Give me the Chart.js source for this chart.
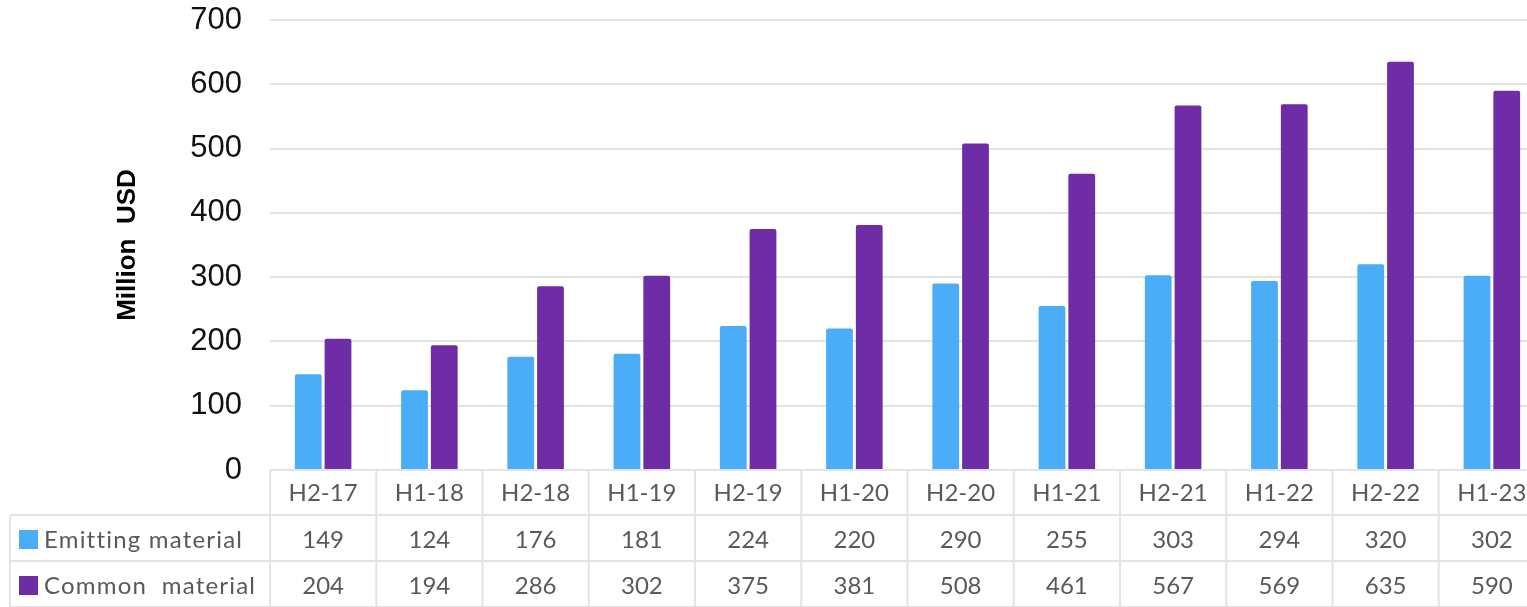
<!DOCTYPE html>
<html>
<head>
<meta charset="utf-8">
<script src="https://cdn.jsdelivr.net/npm/chart.js@4"></script>
<style>
  html, body { margin: 0; padding: 0; background: #fff; overflow: hidden; }
  #wrap { width: 1527px; height: 607px; overflow: hidden; }
</style>
</head>
<body>
<div id="wrap"><canvas id="grafico" width="1545" height="607"></canvas></div>
<script>
const periodos = ['H2-17', 'H1-18', 'H2-18', 'H1-19', 'H2-19', 'H1-20', 'H2-20', 'H1-21', 'H2-21', 'H1-22', 'H2-22', 'H1-23']
const emitting = [149, 124, 176, 181, 224, 220, 290, 255, 303, 294, 320, 302]
const common = [204, 194, 286, 302, 375, 381, 508, 461, 567, 569, 635, 590]
const yTicks = [0, 100, 200, 300, 400, 500, 600, 700]

const corAzul = '#4BACF8'
const corRoxo = '#6E2CA6'
const corGrade = '#E3E3E3'
const corTexto = '#595959'

// table under the chart, aligned to the x scale
const tabela = {
  id: 'tabela',
  afterDraw(chart) {
    const ctx = chart.ctx
    const x = chart.scales.x
    const top = chart.chartArea.bottom
    const rows = [top, 515, 561, 607]
    const larg = x.getPixelForValue(1) - x.getPixelForValue(0)
    const left = x.getPixelForValue(0) - larg / 2
    const right = x.getPixelForValue(periodos.length - 1) + larg / 2
    const labelLeft = 10

    ctx.save()
    ctx.strokeStyle = corGrade
    ctx.lineWidth = 2
    ctx.beginPath()
    ctx.moveTo(left, rows[0]); ctx.lineTo(right, rows[0])
    for (let r = 1; r < rows.length; r++) {
      ctx.moveTo(labelLeft, rows[r]); ctx.lineTo(right, rows[r])
    }
    ctx.moveTo(labelLeft, rows[1]); ctx.lineTo(labelLeft, rows[3])
    for (let i = 0; i <= periodos.length; i++) {
      const px = left + i * larg
      ctx.moveTo(px, rows[0]); ctx.lineTo(px, rows[3])
    }
    ctx.stroke()

    ctx.fillStyle = corTexto
    ctx.font = '24px Lato, "Open Sans", sans-serif'
    ctx.textAlign = 'center'
    ctx.textBaseline = 'middle'
    for (let i = 0; i < periodos.length; i++) {
      const cx = x.getPixelForValue(i)
      ctx.fillText(periodos[i], cx, 493)
      ctx.fillText(String(emitting[i]), cx, 540)
      ctx.fillText(String(common[i]), cx, 586)
    }

    ctx.textAlign = 'left'
    ctx.fillStyle = corAzul
    ctx.fillRect(19, 530, 19, 19)
    ctx.fillStyle = corRoxo
    ctx.fillRect(19, 576, 19, 19)
    ctx.fillStyle = corTexto
    ctx.letterSpacing = '1.2px'
    ctx.fillText('Emitting material', 44, 540)
    ctx.fillText('Common  material', 44, 586)
    ctx.restore()
  }
}

new Chart(document.getElementById('grafico'), {
  type: 'bar',
  data: {
    labels: periodos,
    datasets: [
      {
        label: 'Emitting material',
        data: emitting,
        backgroundColor: corAzul,
        borderWidth: 0,
        borderRadius: 2,
        categoryPercentage: 0.56,
        barPercentage: 0.9
      },
      {
        label: 'Common material',
        data: common,
        backgroundColor: corRoxo,
        borderWidth: 0,
        borderRadius: 2,
        categoryPercentage: 0.56,
        barPercentage: 0.9
      }
    ]
  },
  options: {
    responsive: false,
    animation: false,
    layout: { padding: { top: 20, bottom: 137, left: 100, right: 0 } },
    plugins: { legend: { display: false }, tooltip: { enabled: false } },
    scales: {
      x: { display: false },
      y: {
        min: 0,
        max: 700,
        afterBuildTicks: scale => { scale.ticks = yTicks.map(v => ({ value: v })) },
        afterFit: scale => { scale.width = 170 },
        border: { display: false },
        grid: { color: corGrade, lineWidth: 2, drawTicks: true, tickLength: 28, tickColor: 'rgba(0,0,0,0)' },
        ticks: {
          padding: 0,
          color: '#111',
          font: { family: '"Liberation Sans", Arial, sans-serif', size: 31 }
        },
        title: {
          display: true,
          text: 'Million  USD',
          color: '#000',
          padding: { top: 12, bottom: 0 },
          font: { family: '"Liberation Sans", Arial, sans-serif', size: 26, weight: 'bold' }
        }
      }
    }
  },
  plugins: [tabela]
})
</script>
</body>
</html>
